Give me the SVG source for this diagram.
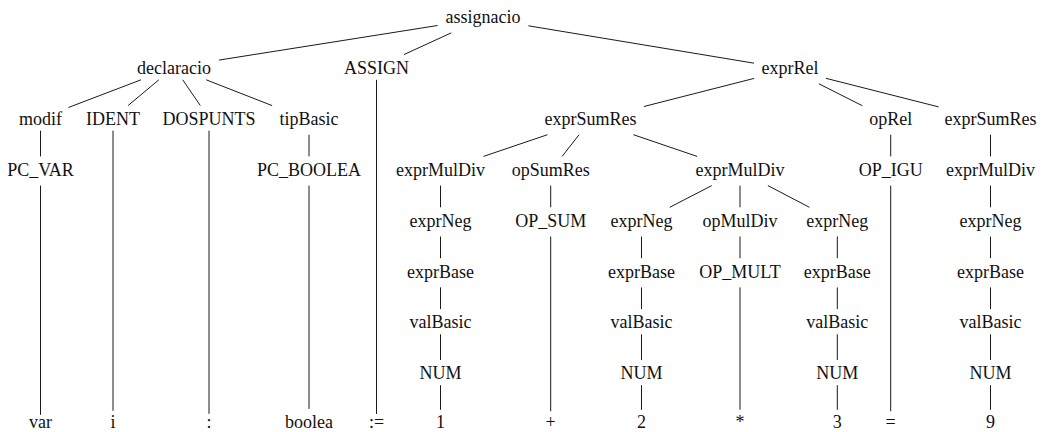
<svg xmlns="http://www.w3.org/2000/svg" width="1046" height="432" viewBox="0 0 1046 432">
  <style>
    .bg { fill: #ffffff; }
    .lbl { font-family: "Liberation Serif", "Times New Roman", serif; font-size: 18px; fill: #111111; text-anchor: middle; }
    .edge { stroke: #1a1a1a; stroke-width: 1; fill: none; stroke-linecap: butt; }
  </style>
  <rect class="bg" x="0" y="0" width="1046" height="432"/>

  <!-- connectors: parent box to child box, clipped at node borders -->
  <g id="edges" class="edge">
    <!-- assignacio -->
    <line x1="437.6" y1="25.5" x2="218.9" y2="60.1"/>
    <line x1="451.2" y1="32.9" x2="403.9" y2="54.6"/>
    <line x1="528.4" y1="25.8" x2="754.1" y2="63.2"/>
    <!-- declaracio -->
    <line x1="141.0" y1="79.8" x2="68.4" y2="107.5"/>
    <line x1="158.9" y1="79.8" x2="128.1" y2="105.5"/>
    <line x1="182.7" y1="79.8" x2="200.3" y2="105.5"/>
    <line x1="206.2" y1="79.8" x2="272.1" y2="105.6"/>
    <!-- ASSIGN -->
    <line x1="376.5" y1="79.8" x2="376.5" y2="414"/>
    <!-- exprRel -->
    <line x1="754.1" y1="78.4" x2="643.9" y2="106.5"/>
    <line x1="818.9" y1="83.8" x2="862.3" y2="105.7"/>
    <line x1="825.9" y1="78.3" x2="938.6" y2="106.9"/>
    <!-- row 2 -->
    <line x1="40.5" y1="130.7" x2="40.5" y2="156.4"/>
    <line x1="113" y1="130.7" x2="113" y2="410.8"/>
    <line x1="209" y1="130.7" x2="209" y2="413.8"/>
    <line x1="309" y1="134.7" x2="309" y2="156.4"/>
    <line x1="547.5" y1="134.7" x2="483.5" y2="156.4"/>
    <line x1="579.1" y1="134.7" x2="562.1" y2="156.4"/>
    <line x1="633.4" y1="134.7" x2="697.1" y2="156.4"/>
    <line x1="890.7" y1="134.7" x2="890.7" y2="156.4"/>
    <line x1="990.5" y1="134.7" x2="990.5" y2="156.4"/>
    <!-- row 3 -->
    <line x1="40.5" y1="185.6" x2="40.5" y2="414.8"/>
    <line x1="309" y1="185.6" x2="309" y2="408.9"/>
    <line x1="440.5" y1="185.6" x2="440.5" y2="207.3"/>
    <line x1="550.7" y1="185.6" x2="550.7" y2="207.3"/>
    <line x1="711.75" y1="185.6" x2="669.75" y2="207.3"/>
    <line x1="740" y1="185.6" x2="740" y2="207.3"/>
    <line x1="767.9" y1="185.6" x2="809.4" y2="207.3"/>
    <line x1="890.7" y1="185.6" x2="890.7" y2="411.3"/>
    <line x1="990.5" y1="185.6" x2="990.5" y2="207.3"/>
    <!-- row 4 -->
    <line x1="440.5" y1="236.5" x2="440.5" y2="258.2"/>
    <line x1="550.7" y1="236.5" x2="550.7" y2="411.3"/>
    <line x1="641.5" y1="236.5" x2="641.5" y2="258.2"/>
    <line x1="740" y1="236.5" x2="740" y2="258.2"/>
    <line x1="837.3" y1="236.5" x2="837.3" y2="258.2"/>
    <line x1="990.5" y1="236.5" x2="990.5" y2="258.2"/>
    <!-- row 5 -->
    <line x1="440.5" y1="287.4" x2="440.5" y2="309.1"/>
    <line x1="641.5" y1="287.4" x2="641.5" y2="309.1"/>
    <line x1="740" y1="287.4" x2="740" y2="409.7"/>
    <line x1="837.3" y1="287.4" x2="837.3" y2="309.1"/>
    <line x1="990.5" y1="287.4" x2="990.5" y2="309.1"/>
    <!-- row 6 -->
    <line x1="440.5" y1="334.3" x2="440.5" y2="360"/>
    <line x1="641.5" y1="334.3" x2="641.5" y2="360"/>
    <line x1="837.3" y1="334.3" x2="837.3" y2="360"/>
    <line x1="990.5" y1="334.3" x2="990.5" y2="360"/>
    <!-- row 7 -->
    <line x1="440.5" y1="385.2" x2="440.5" y2="409.8"/>
    <line x1="641.5" y1="385.2" x2="641.5" y2="409.8"/>
    <line x1="837.3" y1="385.2" x2="837.3" y2="409.8"/>
    <line x1="990.5" y1="385.2" x2="990.5" y2="409.8"/>
  </g>

  <!-- row 0 -->
  <g id="n-assignacio"><text class="lbl" x="483" y="23">assignacio</text></g>
  <!-- row 1 -->
  <g id="n-declaracio"><text class="lbl" x="174" y="73.9">declaracio</text></g>
  <g id="n-assign"><text class="lbl" x="376.5" y="73.9">ASSIGN</text></g>
  <g id="n-exprrel"><text class="lbl" x="790" y="73.9">exprRel</text></g>
  <!-- row 2 -->
  <g id="n-modif"><text class="lbl" x="40.5" y="124.8">modif</text></g>
  <g id="n-ident"><text class="lbl" x="113" y="124.8">IDENT</text></g>
  <g id="n-dospunts"><text class="lbl" x="209" y="124.8">DOSPUNTS</text></g>
  <g id="n-tipbasic"><text class="lbl" x="309" y="124.8">tipBasic</text></g>
  <g id="n-exprsumres-1"><text class="lbl" x="590.5" y="124.8">exprSumRes</text></g>
  <g id="n-oprel"><text class="lbl" x="890.7" y="124.8">opRel</text></g>
  <g id="n-exprsumres-2"><text class="lbl" x="990.5" y="124.8">exprSumRes</text></g>
  <!-- row 3 -->
  <g id="n-pc-var"><text class="lbl" x="40.5" y="175.7">PC_VAR</text></g>
  <g id="n-pc-boolea"><text class="lbl" x="309" y="175.7">PC_BOOLEA</text></g>
  <g id="n-exprmuldiv-1"><text class="lbl" x="440.5" y="175.7">exprMulDiv</text></g>
  <g id="n-opsumres"><text class="lbl" x="550.7" y="175.7">opSumRes</text></g>
  <g id="n-exprmuldiv-2"><text class="lbl" x="740" y="175.7">exprMulDiv</text></g>
  <g id="n-op-igu"><text class="lbl" x="890.7" y="175.7">OP_IGU</text></g>
  <g id="n-exprmuldiv-3"><text class="lbl" x="990.5" y="175.7">exprMulDiv</text></g>
  <!-- row 4 -->
  <g id="n-exprneg-1"><text class="lbl" x="440.5" y="226.6">exprNeg</text></g>
  <g id="n-op-sum"><text class="lbl" x="550.7" y="226.6">OP_SUM</text></g>
  <g id="n-exprneg-2"><text class="lbl" x="641.5" y="226.6">exprNeg</text></g>
  <g id="n-opmuldiv"><text class="lbl" x="740" y="226.6">opMulDiv</text></g>
  <g id="n-exprneg-3"><text class="lbl" x="837.3" y="226.6">exprNeg</text></g>
  <g id="n-exprneg-4"><text class="lbl" x="990.5" y="226.6">exprNeg</text></g>
  <!-- row 5 -->
  <g id="n-exprbase-1"><text class="lbl" x="440.5" y="277.5">exprBase</text></g>
  <g id="n-exprbase-2"><text class="lbl" x="641.5" y="277.5">exprBase</text></g>
  <g id="n-op-mult"><text class="lbl" x="740" y="277.5">OP_MULT</text></g>
  <g id="n-exprbase-3"><text class="lbl" x="837.3" y="277.5">exprBase</text></g>
  <g id="n-exprbase-4"><text class="lbl" x="990.5" y="277.5">exprBase</text></g>
  <!-- row 6 -->
  <g id="n-valbasic-1"><text class="lbl" x="440.5" y="328.4">valBasic</text></g>
  <g id="n-valbasic-2"><text class="lbl" x="641.5" y="328.4">valBasic</text></g>
  <g id="n-valbasic-3"><text class="lbl" x="837.3" y="328.4">valBasic</text></g>
  <g id="n-valbasic-4"><text class="lbl" x="990.5" y="328.4">valBasic</text></g>
  <!-- row 7 -->
  <g id="n-num-1"><text class="lbl" x="440.5" y="379.3">NUM</text></g>
  <g id="n-num-2"><text class="lbl" x="641.5" y="379.3">NUM</text></g>
  <g id="n-num-3"><text class="lbl" x="837.3" y="379.3">NUM</text></g>
  <g id="n-num-4"><text class="lbl" x="990.5" y="379.3">NUM</text></g>
  <!-- row 8: tokens -->
  <g id="t-var"><text class="lbl" x="40.5" y="428">var</text></g>
  <g id="t-i"><text class="lbl" x="113" y="428">i</text></g>
  <g id="t-colon"><text class="lbl" x="209" y="428">:</text></g>
  <g id="t-boolea"><text class="lbl" x="309" y="428">boolea</text></g>
  <g id="t-assign"><text class="lbl" x="376.5" y="428">:=</text></g>
  <g id="t-1"><text class="lbl" x="440.5" y="428">1</text></g>
  <g id="t-plus"><text class="lbl" x="550.7" y="428">+</text></g>
  <g id="t-2"><text class="lbl" x="641.5" y="428">2</text></g>
  <g id="t-star"><text class="lbl" x="740" y="428">*</text></g>
  <g id="t-3"><text class="lbl" x="837.3" y="428">3</text></g>
  <g id="t-eq"><text class="lbl" x="890.7" y="428">=</text></g>
  <g id="t-9"><text class="lbl" x="990.5" y="428">9</text></g>
</svg>
